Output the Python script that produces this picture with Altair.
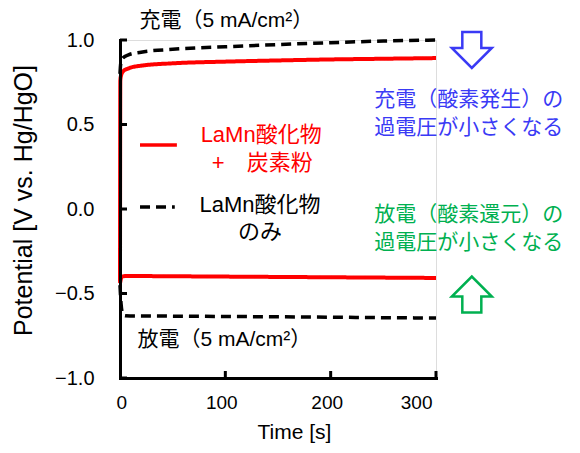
import altair as alt
import pandas as pd

# ---- data ----
t_red_charge = [0, 0.3, 1, 3, 8, 20, 50, 100, 150, 200, 250, 300]
v_red_charge = [-0.43, 0.76, 0.79, 0.815, 0.832, 0.848, 0.862, 0.872, 0.879, 0.885, 0.889, 0.893]

t_blk_charge = [0, 0.5, 1, 3, 8, 20, 50, 100, 150, 200, 250, 300]
v_blk_charge = [0.80, 0.85, 0.87, 0.895, 0.912, 0.928, 0.945, 0.96, 0.973, 0.984, 0.994, 1.0]

t_red_dis = [0, 1, 2, 5, 20, 50, 100, 150, 200, 250, 300]
v_red_dis = [-0.44, -0.41, -0.40, -0.397, -0.397, -0.398, -0.400, -0.402, -0.404, -0.406, -0.408]

t_blk_dis = [0, 1, 2, 3, 5, 20, 50, 100, 150, 200, 250, 300]
v_blk_dis = [-0.45, -0.56, -0.61, -0.625, -0.632, -0.633, -0.634, -0.636, -0.638, -0.640, -0.643, -0.645]

x_ticks = [0, 100, 200, 300]
y_ticks = [-1.0, -0.5, 0.0, 0.5, 1.0]

FONT = "Liberation Sans, Noto Sans CJK JP"

rows = []
for name, mat, ts, vs in [
    ("red_charge", "mix", t_red_charge, v_red_charge),
    ("red_dis", "mix", t_red_dis, v_red_dis),
    ("blk_charge", "only", t_blk_charge, v_blk_charge),
    ("blk_dis", "only", t_blk_dis, v_blk_dis),
]:
    for t, v in zip(ts, vs):
        rows.append({"series": name, "material": mat, "t": t, "v": v})
df = pd.DataFrame(rows)

xscale = alt.Scale(domain=[0, 300], nice=False)
yscale = alt.Scale(domain=[-1, 1], nice=False)

lines = alt.Chart(df).mark_line(interpolate="monotone").encode(
    x=alt.X("t:Q", scale=xscale, axis=alt.Axis(
        values=x_ticks, title="Time [s]", ticks=False, tickSize=0, grid=False,
        labelFont=FONT, labelFontSize=19, labelColor="black", labelPadding=15, labelOffset=-4,
        domainColor="black", domainWidth=3, domainCap="square",
        titleFont=FONT, titleFontSize=21, titleFontWeight="normal", titleColor="black",
        titleX=174, titleY=54, titleBaseline="middle", zindex=1)),
    y=alt.Y("v:Q", scale=yscale, axis=alt.Axis(
        values=y_ticks, format=".1f", title="Potential [V vs. Hg/HgO]", ticks=False, tickSize=0,
        grid=False, labelFont=FONT, labelFontSize=20, labelColor="black", labelPadding=26,
        domainColor="black", domainWidth=3, domainCap="square",
        titleFont=FONT, titleFontSize=25, titleFontWeight="normal", titleColor="black",
        titleAngle=-90, titleX=-97, titleY=160, titleBaseline="middle", titleAlign="center", zindex=1)),
    color=alt.Color("material:N", scale=alt.Scale(domain=["mix", "only"], range=["#ff0000", "#000000"]), legend=None),
    strokeDash=alt.StrokeDash("material:N", scale=alt.Scale(domain=["mix", "only"], range=[[1, 0], [10, 6]]), legend=None),
    strokeWidth=alt.StrokeWidth("material:N", scale=alt.Scale(domain=["mix", "only"], range=[4, 3.5]), legend=None),
    detail="series:N",
)

# inward ticks
yt = pd.DataFrame({"v": y_ticks})
ytick = alt.Chart(yt).mark_rule(color="black", strokeWidth=3).encode(
    y=alt.Y("v:Q", scale=yscale), x=alt.value(0), x2=alt.value(7))
xt = pd.DataFrame({"t": x_ticks[1:]})
xtick = alt.Chart(xt).mark_rule(color="black", strokeWidth=3).encode(
    x=alt.X("t:Q", scale=xscale), y=alt.value(338), y2=alt.value(331))

# legend swatches
sw = pd.DataFrame({"t": [19, 19], "t2": [54, 52], "v": [0.379, 0.012], "material": ["mix", "only"]})
swatch = alt.Chart(sw).mark_rule(strokeWidth=3.5).encode(
    x=alt.X("t:Q", scale=xscale), x2="t2:Q", y=alt.Y("v:Q", scale=yscale),
    color=alt.Color("material:N", scale=alt.Scale(domain=["mix", "only"], range=["#ff0000", "#000000"]), legend=None),
    strokeDash=alt.StrokeDash("material:N", scale=alt.Scale(domain=["mix", "only"], range=[[1, 0], [9, 4]]), legend=None),
)

# annotations
ann_left = pd.DataFrame({
    "text": ["充電（5 mA/cm²）", "放電（5 mA/cm²）"],
    "t": [18.5, 16.5], "v": [1.112, -0.775],
})
txt_left = alt.Chart(ann_left).mark_text(align="left", baseline="middle", font=FONT, fontSize=21, color="black").encode(
    x=alt.X("t:Q", scale=xscale), y=alt.Y("v:Q", scale=yscale), text="text:N")

ann_leg = pd.DataFrame({
    "text": ["LaMn酸化物", "+\u3000炭素粉", "LaMn酸化物", "のみ"],
    "t": [134, 135, 133, 133],
    "v": [0.438, 0.272, 0.024, -0.136],
    "color": ["#ff0000", "#ff0000", "#000000", "#000000"],
})
txt_leg = alt.Chart(ann_leg).mark_text(align="center", baseline="middle", font=FONT, fontSize=22).encode(
    x=alt.X("t:Q", scale=xscale), y=alt.Y("v:Q", scale=yscale), text="text:N",
    color=alt.Color("color:N", scale=None))

ann_r = pd.DataFrame({
    "text": ["充電（酸素発生）の", "過電圧が小さくなる", "放電（酸素還元）の", "過電圧が小さくなる"],
    "t": [331, 331, 331, 331],
    "v": [0.645, 0.479, -0.036, -0.201],
    "color": ["#3a3af5", "#3a3af5", "#00b050", "#00b050"],
})
txt_r = alt.Chart(ann_r).mark_text(align="center", baseline="middle", font=FONT, fontSize=21).encode(
    x=alt.X("t:Q", scale=xscale), y=alt.Y("v:Q", scale=yscale), text="text:N",
    color=alt.Color("color:N", scale=None))

down_arrow = "M -0.475 -0.9 L 0.475 -0.9 L 0.475 -0.1 L 1 -0.1 L 0 0.9 L -1 -0.1 L -0.475 -0.1 Z"
up_arrow = "M -0.475 0.9 L 0.475 0.9 L 0.475 0.1 L 1 0.1 L 0 -0.9 L -1 0.1 L -0.475 0.1 Z"
arr1 = alt.Chart(pd.DataFrame({"t": [334], "v": [0.941]})).mark_point(
    shape=down_arrow, size=1600, filled=False, color="#3a3af5", strokeWidth=2.5, opacity=1).encode(
    x=alt.X("t:Q", scale=xscale), y=alt.Y("v:Q", scale=yscale))
arr2 = alt.Chart(pd.DataFrame({"t": [334], "v": [-0.506]})).mark_point(
    shape=up_arrow, size=1600, filled=False, color="#00b050", strokeWidth=2.5, opacity=1).encode(
    x=alt.X("t:Q", scale=xscale), y=alt.Y("v:Q", scale=yscale))

chart = alt.layer(lines, ytick, xtick, swatch, txt_left, txt_leg, txt_r, arr1, arr2).properties(
    width=316, height=338,
    autosize=alt.AutoSizeParams(type="none"),
    padding={"left": 112, "top": 32, "right": 136, "bottom": 67},
).configure_view(stroke=None).configure(background="white")

chart.save("out.html", embed_options={"renderer": "svg", "actions": False})
